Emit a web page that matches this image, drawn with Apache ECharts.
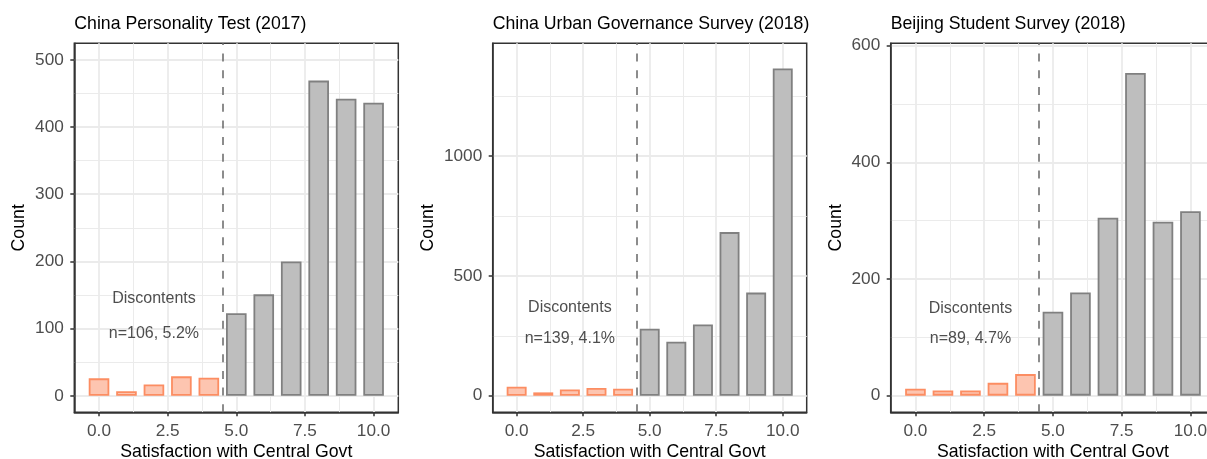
<!DOCTYPE html>
<html><head><meta charset="utf-8">
<script src="https://cdn.jsdelivr.net/npm/echarts@6/dist/echarts.min.js"></script>
<style>html,body{margin:0;padding:0;background:#fff}#c{width:1207px;height:459px}</style>
</head><body><div id="c"></div>
<script>
// ---------- data ----------
const panelTitles = ['China Personality Test (2017)', 'China Urban Governance Survey (2018)', 'Beijing Student Survey (2018)'];
const scores = [0, 1, 2, 3, 4, 5, 6, 7, 8, 9, 10];
const countsCPT  = [26, 7, 17, 29, 27, 123, 151, 200, 469, 442, 436];
const countsCUGS = [38, 14, 26, 32, 29, 279, 225, 297, 682, 430, 1364];
const countsBSS  = [12, 9, 9, 22, 37, 144, 177, 305, 553, 298, 316];
const cutoff = 4.5;
const xTicks = [0, 2.5, 5, 7.5, 10];
const xMinorTicks = [1.25, 3.75, 6.25, 8.75];
const yTicksCPT = [0, 100, 200, 300, 400, 500];
const yMinorCPT = [50, 150, 250, 350, 450];
const yTicksCUGS = [0, 500, 1000];
const yMinorCUGS = [250, 750, 1250];
const yTicksBSS = [0, 200, 400, 600];
const yMinorBSS = [100, 300, 500];
const annotX = 2;
const annotLabel = 'Discontents';
const annotN = ['n=106, 5.2%', 'n=139, 4.1%', 'n=89, 4.7%'];
const annotYTop = [145, 369, 149];
const annotYBottom = [93, 237, 98];
const xName = 'Satisfaction with Central Govt';
const yName = 'Count';

// ---------- layout / style ----------
const FONT = '"Liberation Sans", Arial, Helvetica, sans-serif';
const panels = [
  {counts: countsCPT,  yTicks: yTicksCPT,  yMinor: yMinorCPT,  left: 74.3,  width: 324,   yMin: -24.5, yMax: 524.5, nameGap: 46},
  {counts: countsCUGS, yTicks: yTicksCUGS, yMinor: yMinorCUGS, left: 492.7, width: 314,   yMin: -69,   yMax: 1469,  nameGap: 56},
  {counts: countsBSS,  yTicks: yTicksBSS,  yMinor: yMinorBSS,  left: 890.7, width: 324.5, yMin: -28.5, yMax: 604,   nameGap: 46}
];
const GTOP = 43.3, GH = 369, XMIN = -0.9, XMAX = 10.9;
const orangeStyle = {color: '#fdc5b0', borderColor: '#fc8d62', borderWidth: 1.8};
const grayStyle = {color: '#bebebe', borderColor: '#808080', borderWidth: 1.8};
const tickLabel = {fontSize: 17.2, color: '#4d4d4d', fontFamily: FONT, lineHeight: 17};

const option = {animation: false, backgroundColor: '#fff', title: [], grid: [], xAxis: [], yAxis: [], series: []};

panels.forEach((p, i) => {
  option.title.push({text: panelTitles[i], left: p.left, top: 15, padding: 0,
    textStyle: {fontSize: 17.7, fontWeight: 'normal', color: '#000', fontFamily: FONT, lineHeight: 18}});
  option.grid.push({left: p.left, top: GTOP, width: p.width, height: GH, show: true,
    borderColor: '#333', borderWidth: 1.5, backgroundColor: '#fff', containLabel: false, outerBoundsMode: 'none'});
  // major x
  option.xAxis.push({gridIndex: i, type: 'value', min: XMIN, max: XMAX, position: 'bottom',
    axisLine: {show: true, onZero: false, lineStyle: {color: '#333', width: 1.5}},
    axisTick: {show: true, customValues: xTicks, length: 4, lineStyle: {color: '#333', width: 1.5}},
    axisLabel: Object.assign({customValues: xTicks, formatter: v => Number(v).toFixed(1), margin: 10.7}, tickLabel),
    splitLine: {show: true, lineStyle: {color: '#ebebeb', width: 1.8}},
    name: xName, nameLocation: 'middle', nameGap: 31, nameMoveOverlap: false,
    nameTextStyle: {fontSize: 17.7, color: '#000', fontFamily: FONT, lineHeight: 17.7}});
  // minor x
  option.xAxis.push({gridIndex: i, type: 'value', min: XMIN, max: XMAX, position: 'bottom',
    axisLine: {show: false, onZero: false}, axisTick: {show: false, customValues: xMinorTicks},
    axisLabel: {show: false, customValues: xMinorTicks},
    splitLine: {show: true, lineStyle: {color: '#ebebeb', width: 1}}});
  // major y
  option.yAxis.push({gridIndex: i, type: 'value', min: p.yMin, max: p.yMax, position: 'left',
    axisLine: {show: true, onZero: false, lineStyle: {color: '#333', width: 1.5}},
    axisTick: {show: true, customValues: p.yTicks, length: 4, lineStyle: {color: '#333', width: 1.5}},
    axisLabel: Object.assign({customValues: p.yTicks, margin: 10.5, formatter: v => String(v)}, tickLabel),
    splitLine: {show: true, lineStyle: {color: '#ebebeb', width: 1.8}},
    name: yName, nameLocation: 'middle', nameRotate: 90, nameGap: p.nameGap, nameMoveOverlap: false,
    nameTextStyle: {fontSize: 17.7, color: '#000', fontFamily: FONT, lineHeight: 17.7}});
  // minor y
  option.yAxis.push({gridIndex: i, type: 'value', min: p.yMin, max: p.yMax, position: 'left',
    axisLine: {show: false, onZero: false}, axisTick: {show: false, customValues: p.yMinor},
    axisLabel: {show: false, customValues: p.yMinor},
    splitLine: {show: true, lineStyle: {color: '#ebebeb', width: 1}}});

  option.series.push({type: 'bar', xAxisIndex: 2 * i, yAxisIndex: 2 * i, barWidth: '75%', z: 3,
    data: scores.map((s, k) => ({value: [s, p.counts[k]], itemStyle: s < cutoff ? orangeStyle : grayStyle})),
    markLine: {silent: true, symbol: ['none', 'none'], label: {show: false}, animation: false,
      lineStyle: {type: [8, 8.7], color: '#707070', width: 1.6},
      data: [{xAxis: cutoff}]}});
  option.series.push({type: 'scatter', xAxisIndex: 2 * i, yAxisIndex: 2 * i, symbolSize: 0, silent: true, z: 4,
    label: {show: true, position: 'inside', formatter: '{b}', fontSize: 16, color: '#222', fontFamily: FONT},
    data: [{name: annotLabel, value: [annotX, annotYTop[i]]}, {name: annotN[i], value: [annotX, annotYBottom[i]]}]});
});

const chart = echarts.init(document.getElementById('c'), null, {renderer: 'canvas'});
chart.setOption(option);
</script></body></html>
